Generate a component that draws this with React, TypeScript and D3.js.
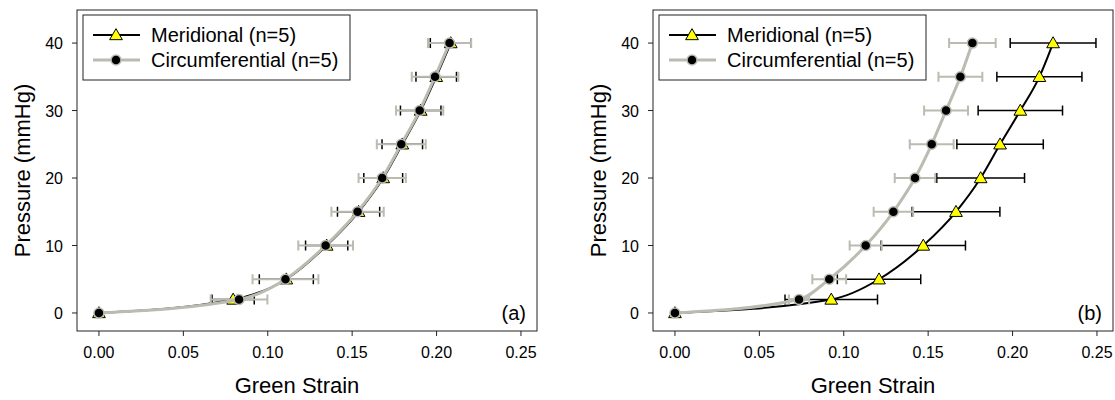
import React from 'react';
import * as d3 from 'd3';

// pressure levels (mmHg) shared by all series
const pressure = [0, 2, 5, 10, 15, 20, 25, 30, 35, 40];

// panel (a)
const aMeridional = [0, 0.0795, 0.1110, 0.1349, 0.1538, 0.1684, 0.1797, 0.1906, 0.1998, 0.2084];
const aMeridionalSD = [0, 0.0125, 0.016, 0.0125, 0.0125, 0.0115, 0.012, 0.012, 0.012, 0.0121];
const aCircumferential = [0, 0.083, 0.1105, 0.1343, 0.1532, 0.1678, 0.1791, 0.19, 0.1991, 0.2077];
const aCircumferentialSD = [0, 0.0168, 0.0195, 0.0162, 0.0155, 0.014, 0.0145, 0.014, 0.0138, 0.0128];

// panel (b)
const bMeridional = [0, 0.0926, 0.1209, 0.1471, 0.1665, 0.1811, 0.1926, 0.2046, 0.2159, 0.224];
const bMeridionalSD = [0, 0.0274, 0.0247, 0.025, 0.026, 0.026, 0.0256, 0.025, 0.0252, 0.0254];
const bCircumferential = [0, 0.0735, 0.0914, 0.113, 0.1294, 0.1422, 0.1521, 0.1606, 0.1691, 0.1762];
const bCircumferentialSD = [0, 0.006, 0.01, 0.0095, 0.0117, 0.012, 0.013, 0.013, 0.013, 0.0138];

const xTicks = [0, 0.05, 0.1, 0.15, 0.2, 0.25];
const yTicks = [0, 10, 20, 30, 40];
const legendLabels = ['Meridional (n=5)', 'Circumferential (n=5)'];

const FONT = '"Liberation Sans", Arial, sans-serif';
const GRAY = '#bbbbb1';

const triangle = d3.symbol(d3.symbolTriangle, 70)();

type Pt = { x: number; y: number; sd: number };

const zip = (xs: number[], sds: number[]): Pt[] =>
  xs.map((x, i) => ({ x, y: pressure[i], sd: sds[i] }));

const Panel = ({ left, mer, merSD, circ, circSD, tag }: any) => {
  const top = 10;
  const w = 460;
  const h = 321;

  const x = d3.scaleLinear().domain([-0.013, 0.2595]).range([left, left + w]);
  const y = d3.scaleLinear().domain([-2.67, 44.9]).range([top + h, top]);

  const line = d3.line<Pt>()
    .x(d => x(d.x))
    .y(d => y(d.y))
    .curve(d3.curveMonotoneX);

  const merPts = zip(mer, merSD);
  const circPts = zip(circ, circSD);

  const errBars = (pts: Pt[], color: string, sw: number) =>
    pts.filter(d => d.sd > 0).map((d, i) => {
      const cy = y(d.y);
      const x0 = x(d.x - d.sd);
      const x1 = x(d.x + d.sd);
      return (
        <g key={i} stroke={color} strokeWidth={sw}>
          <line x1={x0} x2={x1} y1={cy} y2={cy} />
          <line x1={x0} x2={x0} y1={cy - 5} y2={cy + 5} />
          <line x1={x1} x2={x1} y1={cy - 5} y2={cy + 5} />
        </g>
      );
    });

  const lx = left + 6;
  const ly = top + 5;

  return (
    <g fontFamily={FONT}>
      {/* meridional */}
      {errBars(merPts, '#000', 1.5)}
      <path d={line(merPts) || ''} fill="none" stroke="#000" strokeWidth={2} />
      {merPts.map((d, i) => (
        <path key={i} d={triangle || ''} transform={`translate(${x(d.x)},${y(d.y) + 1})`}
          fill="#ffff00" stroke="#000" strokeWidth={1} />
      ))}

      {/* circumferential */}
      {errBars(circPts, GRAY, 2)}
      <path d={line(circPts) || ''} fill="none" stroke={GRAY} strokeWidth={3} />
      {circPts.map((d, i) => (
        <circle key={i} cx={x(d.x)} cy={y(d.y)} r={5} fill="#000" stroke={GRAY} strokeWidth={1.5} />
      ))}

      {/* frame */}
      <rect x={left} y={top} width={w} height={h} fill="none" stroke="#222" strokeWidth={1} />

      {/* x axis */}
      {xTicks.map(t => (
        <g key={t}>
          <line x1={x(t)} x2={x(t)} y1={top + h} y2={top + h + 5} stroke="#222" />
          <text x={x(t)} y={top + h + 27} textAnchor="middle" fontSize={16}>{t.toFixed(2)}</text>
        </g>
      ))}
      <text x={left + w / 2 - 10} y={top + h + 62} textAnchor="middle" fontSize={22}>Green Strain</text>

      {/* y axis */}
      {yTicks.map(t => (
        <g key={t}>
          <line x1={left - 5} x2={left} y1={y(t)} y2={y(t)} stroke="#222" />
          <text x={left - 14} y={y(t) + 6} textAnchor="end" fontSize={16}>{t}</text>
        </g>
      ))}
      <text transform={`translate(${left - 47},${top + h / 2}) rotate(-90)`} textAnchor="middle" fontSize={22}>
        Pressure (mmHg)
      </text>

      {/* panel tag */}
      <text x={left + w - 11} y={y(0) + 7} textAnchor="end" fontSize={20}>{tag}</text>

      {/* legend */}
      <rect x={lx} y={ly} width={267} height={65} fill="#fff" stroke="#222" strokeWidth={1} />
      <line x1={lx + 10} x2={lx + 57} y1={ly + 20} y2={ly + 20} stroke="#000" strokeWidth={2} />
      <path d={triangle || ''} transform={`translate(${lx + 33},${ly + 21})`} fill="#ffff00" stroke="#000" />
      <text x={lx + 68} y={ly + 27} fontSize={20}>{legendLabels[0]}</text>
      <line x1={lx + 10} x2={lx + 57} y1={ly + 45} y2={ly + 45} stroke={GRAY} strokeWidth={3} />
      <circle cx={lx + 33} cy={ly + 45} r={5} fill="#000" stroke={GRAY} strokeWidth={1.5} />
      <text x={lx + 68} y={ly + 52} fontSize={20}>{legendLabels[1]}</text>
    </g>
  );
};

export default function App() {
  return (
    <div style={{ position: 'absolute', left: 0, top: 0 }}>
      <svg width={1115} height={400} style={{ display: 'block', background: '#fff' }}>
        <Panel left={77} mer={aMeridional} merSD={aMeridionalSD}
          circ={aCircumferential} circSD={aCircumferentialSD} tag="(a)" />
        <Panel left={653} mer={bMeridional} merSD={bMeridionalSD}
          circ={bCircumferential} circSD={bCircumferentialSD} tag="(b)" />
      </svg>
    </div>
  );
}
